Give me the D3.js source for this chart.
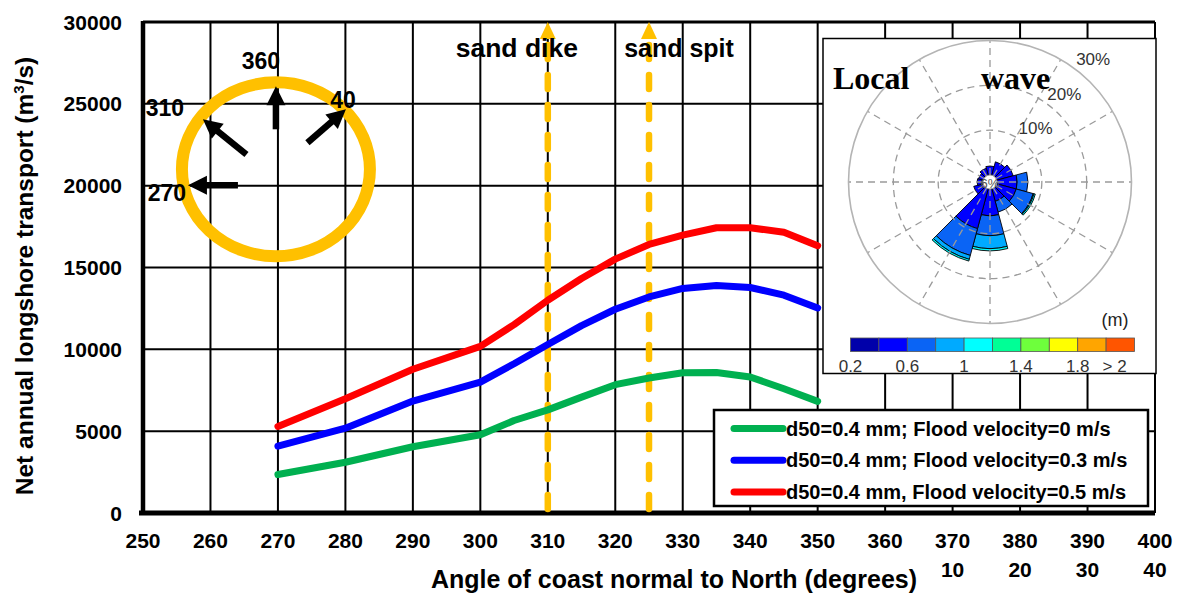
<!DOCTYPE html>
<html>
<head>
<meta charset="utf-8">
<script src="https://cdn.jsdelivr.net/npm/d3@7"></script>
<style>
  html, body { margin: 0; padding: 0; background: #fff; }
  svg { display: block; font-family: "Liberation Sans", Arial, sans-serif; }
</style>
</head>
<body>
<svg id="chart" width="1178" height="593"></svg>
<script>
// ---- data -------------------------------------------------------------
// coast-normal angle (degrees from North)
const angles = [270, 280, 290, 300, 305, 310, 315, 320, 325, 330, 335, 340, 345, 350];
// net annual longshore transport (m3/s) for the three flood velocities
const floodV0  = [2350, 3100, 4050, 4780, 5650, 6300, 7080, 7840, 8250, 8570, 8590, 8310, 7590, 6820];
const floodV03 = [4080, 5180, 6840, 8000, 9120, 10300, 11450, 12450, 13200, 13720, 13900, 13780, 13310, 12530];
const floodV05 = [5290, 6980, 8780, 10180, 11510, 13000, 14330, 15510, 16410, 16980, 17430, 17430, 17150, 16330];
const seriesNames = [
  "d50=0.4 mm; Flood velocity=0 m/s",
  "d50=0.4 mm; Flood velocity=0.3 m/s",
  "d50=0.4 mm, Flood velocity=0.5 m/s"
];
const seriesColors = ["#00b050", "#0000ff", "#ff0000"];

// axis ticks
const xTickValues = [250, 260, 270, 280, 290, 300, 310, 320, 330, 340, 350, 360, 370, 380, 390, 400];
const xTickNorth = [10, 20, 30, 40];          // same angles past North
const yTickValues = [0, 5000, 10000, 15000, 20000, 25000, 30000];

// structure locations along the coast
const markerAngles = [310, 325];
const markerNames = ["sand dike", "sand spit"];

// compass sketch: direction labels, arrow tip offsets and lengths
const compassLabels = ["360", "310", "40", "270"];
const compassDirs = [0, 309, 49, 270];
const compassTipDx = [0, -73, 70, -88];
const compassTipDy = [-83, -50, -60, 16];
const compassLen = [43, 56, 51, 50];
const compassLabelDx = [-15, -111, 67, -109];
const compassLabelDy = [-109, -62, -70, 23];

// local wave rose: direction sectors and frequency (%) per height bin
const roseDirs = [0, 30, 60, 90, 120, 150, 180, 210, 240, 270, 300, 330];
const roseH04 = [2.0, 3.1, 3.8, 4.5, 4.5, 2.9, 6.0, 9.2, 2.2, 1.3, 1.1, 1.6];
const roseH06 = [0, 0, 0, 2.4, 3.9, 2.5, 4.4, 6.2, 0, 0, 0, 0];
const roseH08 = [0, 0, 0, 0, 0.2, 0, 2.9, 0.9, 0, 0, 0, 0];
const roseH10 = [0, 0, 0, 0, 0.3, 0, 0.5, 0.4, 0, 0, 0, 0];
const roseRings = [10, 20, 30];
const heightEdges = [0.2, 0.4, 0.6, 0.8, 1.0, 1.2, 1.4, 1.6, 1.8, 2.0, 2.2];
const heightColors = ["#0000aa", "#0000ff", "#0a64f5", "#00aaff", "#00ffff",
                      "#00ff96", "#6eff3c", "#ffff00", "#ffa500", "#ff5500"];
const heightLabels = ["0.2", "0.6", "1", "1.4", "1.8", "> 2"];
const heightLabelAt = [0.2, 0.6, 1.0, 1.4, 1.8, 2.06];

// ---- chart ------------------------------------------------------------
const svg = d3.select("#chart");
const x = d3.scaleLinear().domain([250, 400]).range([143, 1155]);
const y = d3.scaleLinear().domain([0, 30000]).range([513, 22]);
const bold = "bold";
const serif = "'Liberation Serif', 'Times New Roman', serif";

svg.append("rect").attr("width", 1178).attr("height", 593).attr("fill", "#fff");

// grid
const grid = svg.append("g").attr("stroke", "#000").attr("stroke-width", 2);
grid.selectAll("line.v").data(xTickValues.slice(1)).join("line")
  .attr("x1", d => x(d)).attr("x2", d => x(d))
  .attr("y1", y(30000)).attr("y2", y(0));
grid.selectAll("line.h").data(yTickValues.slice(1)).join("line")
  .attr("x1", x(250)).attr("x2", x(400))
  .attr("y1", d => y(d)).attr("y2", d => y(d));
// frame: top, thick left and bottom axes
svg.append("line").attr("x1", x(250)).attr("x2", x(400)).attr("y1", y(30000)).attr("y2", y(30000))
  .attr("stroke", "#000").attr("stroke-width", 3);
svg.append("line").attr("x1", x(250)).attr("x2", x(250)).attr("y1", y(30000) - 1).attr("y2", y(0) + 2)
  .attr("stroke", "#000").attr("stroke-width", 4.5);
svg.append("line").attr("x1", x(250) - 4).attr("x2", x(400)).attr("y1", y(0)).attr("y2", y(0))
  .attr("stroke", "#000").attr("stroke-width", 5);

// y tick labels
svg.append("g").selectAll("text").data(yTickValues).join("text")
  .attr("x", 122).attr("y", d => y(d)).attr("dy", "0.36em")
  .attr("text-anchor", "end").attr("font-size", 21).attr("font-weight", bold)
  .text(d => d);
// x tick labels
svg.append("g").selectAll("text").data(xTickValues).join("text")
  .attr("x", d => x(d)).attr("y", 548)
  .attr("text-anchor", "middle").attr("font-size", 21).attr("font-weight", bold)
  .text(d => d);
svg.append("g").selectAll("text").data(xTickNorth).join("text")
  .attr("x", d => x(d + 360)).attr("y", 577)
  .attr("text-anchor", "middle").attr("font-size", 21).attr("font-weight", bold)
  .text(d => d);

// axis titles
svg.append("text").attr("x", 674).attr("y", 588).attr("text-anchor", "middle")
  .attr("font-size", 25).attr("font-weight", bold)
  .text("Angle of coast normal to North (degrees)");
const yTitle = svg.append("text").attr("transform", "translate(33,276) rotate(-90)")
  .attr("text-anchor", "middle").attr("font-size", 24.5).attr("font-weight", bold);
yTitle.append("tspan").text("Net annual longshore transport (m");
yTitle.append("tspan").attr("font-size", 15).attr("dy", -9).text("3");
yTitle.append("tspan").attr("dy", 9).text("/s)");

// compass sketch
const cx = x(270) - 2, cy = y(21000);
const compass = svg.append("g").attr("transform", `translate(${cx},${cy})`);
compass.append("ellipse").attr("rx", 94).attr("ry", 87)
  .attr("fill", "none").attr("stroke", "#ffc000").attr("stroke-width", 12);
compassDirs.forEach((dir, i) => {
  const a = dir * Math.PI / 180;
  const ux = Math.sin(a), uy = -Math.cos(a);
  const tx = compassTipDx[i], ty = compassTipDy[i];
  const head = 19, half = 9.5;
  const bx = tx - ux * head, by = ty - uy * head;
  compass.append("line")
    .attr("x1", tx - ux * compassLen[i]).attr("y1", ty - uy * compassLen[i])
    .attr("x2", bx + ux * 2).attr("y2", by + uy * 2)
    .attr("stroke", "#000").attr("stroke-width", 6.5);
  compass.append("path")
    .attr("d", `M${tx},${ty}L${bx - uy * half},${by + ux * half}L${bx + uy * half},${by - ux * half}Z`)
    .attr("fill", "#000");
  compass.append("text")
    .attr("x", compassLabelDx[i]).attr("y", compassLabelDy[i]).attr("dy", "0.36em")
    .attr("text-anchor", "middle").attr("font-size", 23).attr("font-weight", bold)
    .text(compassLabels[i]);
});

// structure markers: dashed arrows up to the top
markerAngles.forEach((a, i) => {
  const mx = x(a);
  svg.append("line").attr("x1", mx).attr("x2", mx).attr("y1", y(0) - 4).attr("y2", y(30000) + 20)
    .attr("stroke", "#ffc000").attr("stroke-width", 6.5)
    .attr("stroke-linecap", "round").attr("stroke-dasharray", "14 16");
  svg.append("path")
    .attr("d", `M${mx},${y(30000)}L${mx - 8},${y(30000) + 17}L${mx + 8},${y(30000) + 17}Z`)
    .attr("fill", "#ffc000");
});
svg.append("text").attr("x", x(310) - 31).attr("y", 57).attr("text-anchor", "middle")
  .attr("font-size", 26.5).attr("font-weight", bold).text(markerNames[0]);
svg.append("text").attr("x", x(325) + 30).attr("y", 57).attr("text-anchor", "middle")
  .attr("font-size", 25).attr("font-weight", bold).text(markerNames[1]);

// transport curves
const seriesValues = [floodV0, floodV03, floodV05];
const line = d3.line().x(d => x(d[0])).y(d => y(d[1]));
seriesValues.forEach((vals, i) => {
  svg.append("path")
    .datum(angles.map((a, j) => [a, vals[j]]))
    .attr("d", line)
    .attr("fill", "none").attr("stroke", seriesColors[i]).attr("stroke-width", 7)
    .attr("stroke-linecap", "round").attr("stroke-linejoin", "round");
});

// legend
const legend = svg.append("g").attr("transform", "translate(714,410)");
legend.append("rect").attr("width", 434).attr("height", 96)
  .attr("fill", "#fff").attr("stroke", "#000").attr("stroke-width", 2.5);
seriesNames.forEach((name, i) => {
  const ly = 18.5 + i * 31.7;
  legend.append("line").attr("x1", 20).attr("x2", 69).attr("y1", ly).attr("y2", ly)
    .attr("stroke", seriesColors[i]).attr("stroke-width", 7).attr("stroke-linecap", "round");
  legend.append("text").attr("x", 72).attr("y", ly).attr("dy", "0.36em")
    .attr("font-size", 20).attr("font-weight", bold).text(name);
});

// ---- local wave rose inset ---------------------------------------------
const inset = svg.append("g");
inset.append("rect").attr("x", 823).attr("y", 38.5).attr("width", 333).attr("height", 335)
  .attr("fill", "#fff").attr("stroke", "#000").attr("stroke-width", 1.5);

const rose = inset.append("g").attr("transform", "translate(990,182)");
const r = d3.scaleLinear().domain([0, 30]).range([7, 141.5]);
const rad = d => d * Math.PI / 180;
const bins = [roseH04, roseH06, roseH08, roseH10];
const binColors = [heightColors[1], heightColors[2], heightColors[3], heightColors[4]];
const arc = d3.arc();
roseDirs.forEach((dir, i) => {
  let cum = 0;
  bins.forEach((b, k) => {
    const v = b[i];
    if (v <= 0) return;
    rose.append("path")
      .attr("d", arc({
        innerRadius: r(cum), outerRadius: r(cum + v),
        startAngle: rad(dir - 15), endAngle: rad(dir + 15)
      }))
      .attr("fill", binColors[k]).attr("stroke", "#000").attr("stroke-width", 0.9);
    cum += v;
  });
});

// rose grid drawn over the petals
const gridColor = "#9a9a9a";
rose.selectAll("line.spoke").data(d3.range(0, 360, 30)).join("line")
  .attr("x1", d => r(0) * Math.sin(rad(d))).attr("y1", d => -r(0) * Math.cos(rad(d)))
  .attr("x2", d => r(30) * Math.sin(rad(d))).attr("y2", d => -r(30) * Math.cos(rad(d)))
  .attr("stroke", gridColor).attr("stroke-width", 1.3).attr("stroke-dasharray", "7 5");
rose.selectAll("circle.ring").data(roseRings).join("circle")
  .attr("r", d => r(d)).attr("fill", "none")
  .attr("stroke", d => d === 30 ? "#b4b4b4" : gridColor)
  .attr("stroke-width", d => d === 30 ? 1.6 : 1.3)
  .attr("stroke-dasharray", d => d === 30 ? null : "7 5");
rose.append("circle").attr("r", r(0)).attr("fill", "#fff").attr("stroke", gridColor).attr("stroke-width", 1);
rose.append("text").attr("y", 1).attr("dy", "0.36em").attr("text-anchor", "middle")
  .attr("font-size", 13).attr("fill", "#555").text("6%");
rose.selectAll("text.pct").data(roseRings).join("text")
  .attr("x", d => (r(d) + 19) * Math.sin(rad(40)))
  .attr("y", d => -(r(d) + 19) * Math.cos(rad(40)))
  .attr("dy", "0.36em").attr("text-anchor", "middle")
  .attr("font-size", 17).attr("fill", "#333").text(d => d + "%");

inset.append("text").attr("x", 833).attr("y", 89)
  .style("font-family", serif)
  .attr("font-size", 32).attr("font-weight", bold).text("Local");
inset.append("text").attr("x", 981).attr("y", 89)
  .style("font-family", serif)
  .attr("font-size", 32).attr("font-weight", bold).text("wave");

// colour bar for wave height
const hb = d3.scaleLinear().domain([0.2, 2.2]).range([850.5, 1134.5]);
inset.append("text").attr("x", 1115).attr("y", 326).attr("text-anchor", "middle")
  .attr("font-size", 18).attr("fill", "#222").text("(m)");
inset.selectAll("rect.hbin").data(heightColors).join("rect")
  .attr("x", (d, i) => hb(heightEdges[i])).attr("y", 338)
  .attr("width", (d, i) => hb(heightEdges[i + 1]) - hb(heightEdges[i])).attr("height", 13.5)
  .attr("fill", d => d).attr("stroke", "#555").attr("stroke-width", 0.8);
inset.selectAll("text.hlab").data(heightLabels).join("text")
  .attr("x", (d, i) => hb(heightLabelAt[i])).attr("y", 372)
  .attr("text-anchor", "middle").attr("font-size", 17).attr("fill", "#333").text(d => d);
</script>
</body>
</html>
